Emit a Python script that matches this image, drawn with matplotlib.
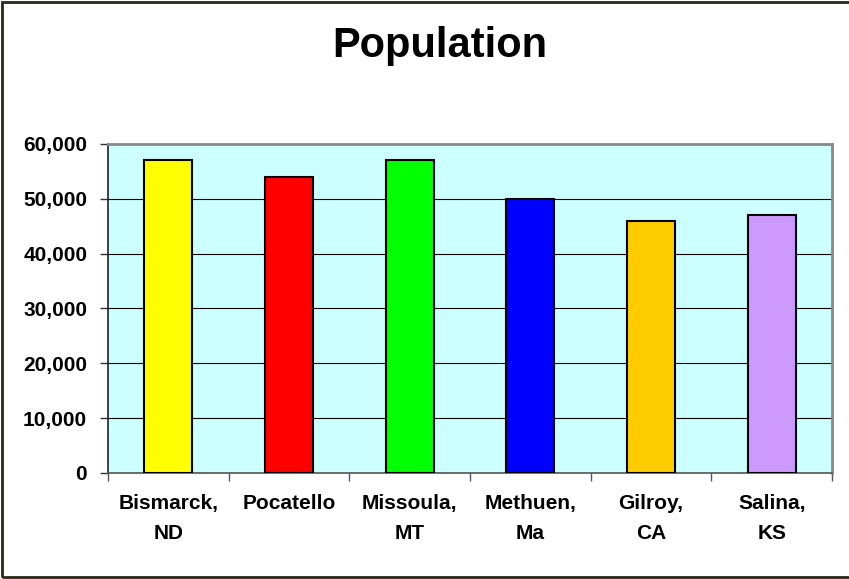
import matplotlib.pyplot as plt
from matplotlib.patches import Rectangle
from matplotlib.ticker import FuncFormatter, MultipleLocator

# City populations
cities = ["Bismarck,\nND", "Pocatello", "Missoula,\nMT", "Methuen,\nMa", "Gilroy,\nCA", "Salina,\nKS"]
population = [57000, 54000, 57000, 50000, 46000, 47000]
bar_colors = ["#FFFF00", "#FF0000", "#00FF00", "#0000FF", "#FFCC00", "#CC99FF"]

plt.rcParams["font.family"] = ["Liberation Sans", "DejaVu Sans"]
plt.rcParams["font.weight"] = "bold"

fig = plt.figure(figsize=(8.49, 5.79), dpi=100)
fig.patch.set_facecolor("white")
ax = fig.add_axes([0.1272, 0.1831, 0.8528, 0.5682])
ax.set_facecolor("#CCFFFF")

x = range(len(cities))
ax.bar(x, population, width=0.4, color=bar_colors, edgecolor="black", linewidth=1.5, zorder=3)

ax.set_xlim(-0.5, len(cities) - 0.5)
ax.set_ylim(0, 60000)
ax.yaxis.set_major_locator(MultipleLocator(10000))
ax.yaxis.set_major_formatter(FuncFormatter(lambda v, p: f"{int(v):,}"))
ax.grid(axis="y", color="black", linewidth=0.8, zorder=1)

# Ticks sit between the categories, labels under the bar centres
ax.set_xticks([i - 0.5 for i in range(len(cities) + 1)])
ax.set_xticklabels([])
ax.set_xticks(list(x), minor=True)
ax.set_xticklabels(cities, minor=True, fontsize=15, fontweight="bold", linespacing=1.75)
ax.tick_params(axis="x", which="minor", length=0, pad=15)
ax.tick_params(axis="x", which="major", length=6, width=1, color="#555555")
ax.tick_params(axis="y", length=6, width=1, pad=9, labelsize=15, color="#333333")
for lab in ax.get_yticklabels():
    lab.set_fontweight("bold")

for side in ["top", "right"]:
    ax.spines[side].set_color("#888888")
    ax.spines[side].set_linewidth(2)
ax.spines["left"].set_color("#222222")
ax.spines["bottom"].set_color("#555555")
ax.spines["left"].set_linewidth(1.2)
ax.spines["bottom"].set_linewidth(1.2)

fig.text(0.518, 0.92, "Population", ha="center", va="center", fontsize=30, fontweight="bold")

# Chart border (right edge runs off the canvas)
fig.patches.append(Rectangle((0.002, 0.004), 1.05, 0.993, transform=fig.transFigure,
                             fill=False, edgecolor="#2a2a18", linewidth=2))

fig.savefig("out.png", dpi=100)
